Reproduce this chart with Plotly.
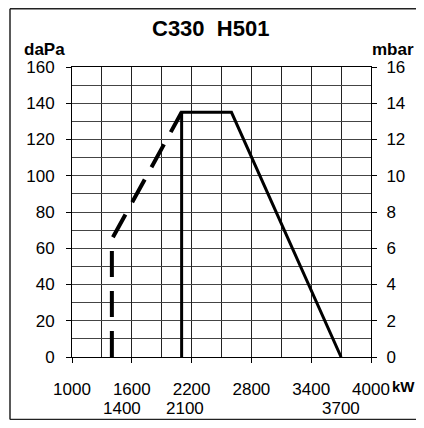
import plotly.graph_objects as go

# Data
solid_kw = [2100, 2100, 2600, 3700]
solid_dapa = [0, 135, 135, 0]
dashed_kw = [1400, 1400, 2100]
dashed_dapa = [0, 65, 135]

x_tick_vals = [1000, 1600, 2200, 2800, 3400, 4000]
x_extra_labels = [1400, 2100, 3700]
y_left_ticks = [0, 20, 40, 60, 80, 100, 120, 140, 160]
y_right_ticks = [0, 2, 4, 6, 8, 10, 12, 14, 16]

FONT = "Liberation Sans, Arial, sans-serif"

# page body has an 8px margin: work in window pixels and shift
OFF = 8
W, H = 424 - 2 * OFF, 428 - 2 * OFF
L, R, T, B = 72 - OFF, 371 - OFF, 67 - OFF, 357 - OFF

fig = go.Figure()
fig.add_trace(go.Scatter(x=dashed_kw, y=dashed_dapa, mode="lines",
                         line=dict(color="black", width=4, dash="26px,14px"),
                         showlegend=False, hoverinfo="skip"))
fig.add_trace(go.Scatter(x=solid_kw, y=solid_dapa, mode="lines",
                         line=dict(color="black", width=3),
                         showlegend=False, hoverinfo="skip"))
fig.add_trace(go.Scatter(x=[1000], y=[0], yaxis="y2", mode="markers",
                         marker=dict(opacity=0), showlegend=False, hoverinfo="skip"))

fig.update_layout(
    width=W, height=H, autosize=False,
    margin=dict(l=L, r=W - R, t=T, b=H - B),
    paper_bgcolor="white", plot_bgcolor="white",
    font=dict(family=FONT, size=17, color="black"),
    xaxis=dict(range=[1000, 4000], tickvals=x_tick_vals,
               ticktext=[str(v) for v in x_tick_vals],
               ticks="outside", ticklen=5, tickcolor="black", tickwidth=1,
               ticklabelstandoff=12,
               showgrid=True, gridcolor="#222", gridwidth=1,
               minor=dict(dtick=300, tick0=1000, showgrid=True, gridcolor="#222", gridwidth=1, ticks=""),
               showline=True, linecolor="black", linewidth=1, mirror=True,
               zeroline=False, fixedrange=True),
    yaxis=dict(range=[0, 160], tickvals=y_left_ticks,
               ticks="outside", ticklen=5, tickcolor="black", tickwidth=1,
               ticklabelstandoff=8,
               showgrid=True, gridcolor="#444", gridwidth=1,
               minor=dict(dtick=10, tick0=0, showgrid=True, gridcolor="#444", gridwidth=1, ticks=""),
               showline=True, linecolor="black", linewidth=1, mirror=True,
               zeroline=False, fixedrange=True),
    yaxis2=dict(range=[0, 16], tickvals=y_right_ticks, overlaying="y", side="right",
                ticks="outside", ticklen=5, tickcolor="black", tickwidth=1,
                ticklabelstandoff=6, showgrid=False, zeroline=False, fixedrange=True),
)

def py2paper(py):
    return ((B + OFF) - py) / (B - T)

def px2paper(px):
    return (px - (L + OFF)) / (R - L)

# second row of x labels
shifts = {1400: 10, 2100: 3, 3700: 0}
for v in x_extra_labels:
    fig.add_annotation(x=v, y=py2paper(408), xref="x", yref="paper", yanchor="middle",
                       text=str(v), showarrow=False, xshift=shifts[v],
                       font=dict(family=FONT, size=17, color="black"))

def paper_ann(text, px, py, size, xanchor="center"):
    fig.add_annotation(x=px2paper(px), y=py2paper(py), xref="paper", yref="paper",
                       text=f"<b>{text}</b>", showarrow=False,
                       xanchor=xanchor, yanchor="middle",
                       font=dict(family=FONT, size=size, color="black"))

paper_ann("C330  H501", 210, 28, 22)
paper_ann("daPa", 44, 49, 17)
paper_ann("mbar", 416, 49, 17, xanchor="right")
paper_ann("kW", 417, 386, 15, xanchor="right")

# outer frame (left, top, bottom edges; right edge lies off the picture)
fx0, fx1 = px2paper(10), px2paper(430)
fy0, fy1 = py2paper(419.5), py2paper(OFF + 0.8)
for x0, y0, x1, y1 in [(fx0, fy0, fx0, fy1), (fx0, fy1, fx1, fy1), (fx0, fy0, fx1, fy0)]:
    fig.add_shape(type="line", xref="paper", yref="paper", x0=x0, y0=y0, x1=x1, y1=y1,
                  line=dict(color="#222", width=1.5), layer="below")

fig.write_html("out.html")
